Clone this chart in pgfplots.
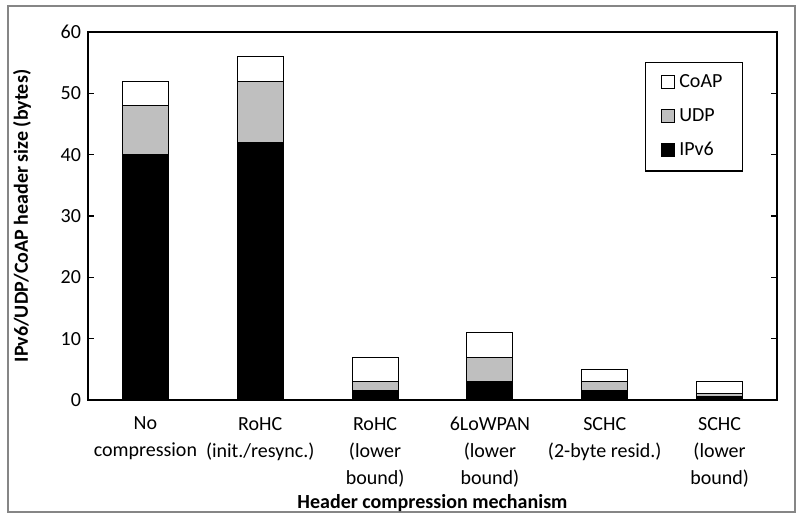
\documentclass[border=0pt]{standalone}
\usepackage{pgfplots}
\pgfplotsset{compat=1.18}
\usepackage{fontspec}
\setmainfont{Carlito}
\definecolor{udpgray}{RGB}{191,191,191}
\definecolor{framegray}{RGB}{134,134,134}
\begin{document}
\fontsize{10}{13.5}\selectfont
\begin{tikzpicture}
\path[use as bounding box] (0,0) rectangle (402pt,256.5pt);
\draw[framegray, line width=0.6pt] (4pt,0.5pt) rectangle (397.5pt,253.5pt);
\begin{axis}[
    at={(44pt,56.5pt)}, anchor=south west,
    scale only axis, width=344.5pt, height=184pt,
    ybar stacked, bar width=23pt,
    xmin=-0.5, xmax=5.5, ymin=0, ymax=60,
    xtick={0,...,5},
    xticklabels={No\\compression, RoHC\\(init./resync.), RoHC\\(lower\\bound),
        6LoWPAN\\(lower\\bound), SCHC\\(2-byte resid.), SCHC\\(lower\\bound)},
    xticklabel style={align=center, yshift=-5pt},
    major x tick style={draw=none},
    ytick={0,10,...,60},
    major tick length=3pt,
    major tick style={black, line width=0.6pt},
    axis line style={line width=1pt},
    /pgf/number format/assume math mode=true,
    ylabel={\bfseries IPv6/UDP/CoAP header size (bytes)},
    ylabel style={at={(axis description cs:-0.0958,0.5)}, anchor=center},
    xlabel={\bfseries Header compression mechanism},
    xlabel style={at={(axis description cs:0.5,0)}, anchor=base, yshift=-54.5pt},
    legend image code/.code={\draw[#1, draw=black, line width=0.5pt] (0pt,-3pt) rectangle (6.5pt,3.5pt);},
    reverse legend,
    legend cell align=left,
    legend style={at={(0.9507,0.9185)}, anchor=north east, draw=black, line width=0.6pt,
        inner xsep=8pt, inner ysep=4pt, row sep=5pt,
        /tikz/every even column/.append style={column sep=2pt}},
]
\addplot[fill=black, draw=black, line width=0.5pt] coordinates {(0,40) (1,42) (2,1.5) (3,3) (4,1.5) (5,0.5)};
\addplot[fill=udpgray, draw=black, line width=0.5pt] coordinates {(0,8) (1,10) (2,1.5) (3,4) (4,1.5) (5,0.5)};
\addplot[fill=white, draw=black, line width=0.5pt] coordinates {(0,4) (1,4) (2,4) (3,4) (4,2) (5,2)};
\legend{IPv6,UDP,CoAP}
\end{axis}
\end{tikzpicture}
\end{document}
